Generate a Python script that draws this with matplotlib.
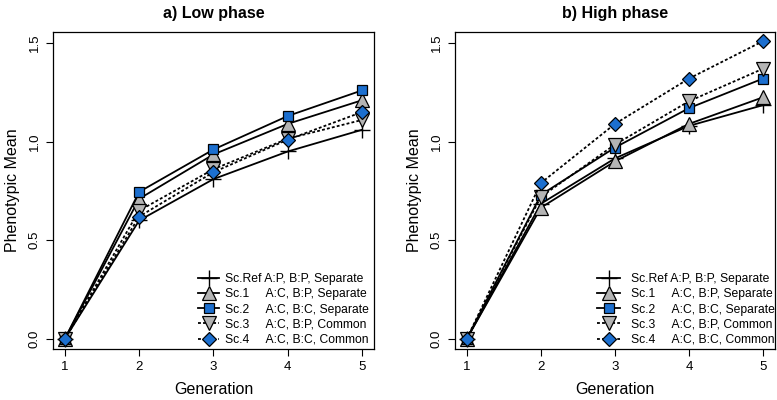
import matplotlib
matplotlib.use("Agg")
import matplotlib.pyplot as plt

plt.rcParams['font.family'] = ['Liberation Sans', 'DejaVu Sans']

generations = [1, 2, 3, 4, 5]
scenario_labels = [
    "Sc.Ref A:P, B:P, Separate",
    "Sc.1     A:C, B:P, Separate",
    "Sc.2     A:C, B:C, Separate",
    "Sc.3     A:C, B:P, Common",
    "Sc.4     A:C, B:C, Common",
]

# Low phase
low_ref = [0.0, 0.60, 0.81, 0.95, 1.06]
low_sc1 = [0.0, 0.71, 0.935, 1.09, 1.21]
low_sc2 = [0.0, 0.745, 0.96, 1.13, 1.26]
low_sc3 = [0.0, 0.65, 0.86, 1.015, 1.11]
low_sc4 = [0.0, 0.62, 0.845, 1.01, 1.15]

# High phase
high_ref = [0.0, 0.685, 0.915, 1.08, 1.185]
high_sc1 = [0.0, 0.665, 0.90, 1.09, 1.225]
high_sc2 = [0.0, 0.73, 0.97, 1.17, 1.32]
high_sc3 = [0.0, 0.72, 0.985, 1.205, 1.37]
high_sc4 = [0.0, 0.79, 1.09, 1.32, 1.51]

panel_titles = ["a) Low phase", "b) High phase"]
yticks = [0.0, 0.5, 1.0, 1.5]

BLUE = "#1c6fcf"
GRAY = "#b4b4b4"
DOT = (0, (1.6, 1.2))

styles = [
    dict(marker='+', color='black', ls='-', ms=11, mew=1.0, mfc='none', mec='black'),
    dict(marker='^', color='black', ls='-', ms=9.5, mew=0.9, mfc=GRAY, mec='black'),
    dict(marker='s', color='black', ls='-', ms=7.5, mew=0.9, mfc=BLUE, mec='black'),
    dict(marker='v', color='black', ls=DOT, ms=9.5, mew=0.9, mfc=GRAY, mec='black'),
    dict(marker='D', color='black', ls=DOT, ms=7.2, mew=0.9, mfc=BLUE, mec='black'),
]

fig = plt.figure(figsize=(7.77, 4.0), dpi=100)
ax1 = fig.add_axes([53/777, 1-349/400, 321/777, 317/400])
ax2 = fig.add_axes([455/777, 1-349/400, 320/777, 317/400])

panels = [
    (ax1, [low_ref, low_sc1, low_sc2, low_sc3, low_sc4], 0.452, 1.75, 0.5),
    (ax2, [high_ref, high_sc1, high_sc2, high_sc3, high_sc4], 0.445, 1.85, 0.9),
]

for i, (ax, series, lx, hl, htp) in enumerate(panels):
    for vals, st, lab in zip(series, styles, scenario_labels):
        ax.plot(generations, vals, lw=1.3, label=lab, clip_on=False, **st)
    ax.set_xlim(0.84, 5.16)
    ax.set_ylim(-0.052, 1.556)
    ax.set_xticks(generations)
    ax.set_yticks(yticks)
    ax.set_yticklabels([f"{v:.1f}" for v in yticks], rotation=90, va='center')
    ax.tick_params(axis='both', direction='out', length=5, width=0.8, labelsize=9.5, pad=4)
    for sp in ax.spines.values():
        sp.set_linewidth(0.9)
        sp.set_color('black')
    ax.set_xlabel("Generation", fontsize=11.5, labelpad=6)
    ax.set_ylabel("Phenotypic Mean", fontsize=11.5, labelpad=6)
    ax.set_title(panel_titles[i], fontsize=11.5, fontweight='bold', pad=10)
    leg = ax.legend(loc='lower left', bbox_to_anchor=(lx, 0.01), frameon=False,
                    fontsize=8.7, borderpad=0, borderaxespad=0, handlelength=hl,
                    handletextpad=htp, labelspacing=0.26, numpoints=1)

fig.savefig("out.png", dpi=100)
